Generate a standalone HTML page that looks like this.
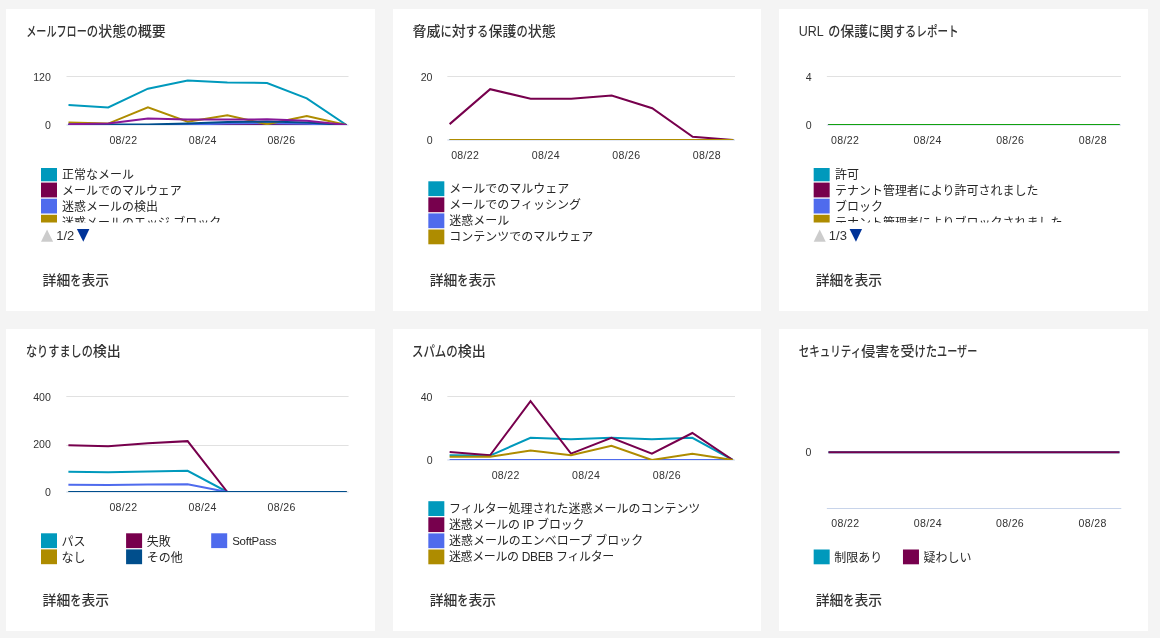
<!DOCTYPE html>
<html lang="ja">
<head>
<meta charset="utf-8">
<title>レポート ダッシュボード</title>
<style>
html,body{margin:0;padding:0}
body{width:1160px;height:638px;overflow:hidden;background:#f4f4f4;position:relative;
 font-family:"Liberation Sans","Noto Sans CJK JP",sans-serif;color:#333}
.card{position:absolute;width:368.67px;height:302px;background:#fff;overflow:hidden}
.card svg{position:absolute;left:0;top:0;overflow:hidden}
.card svg text{font-family:"Liberation Sans","Noto Sans CJK JP",sans-serif;fill:#333}
.card svg text.lg{fill:#262626}
.card svg a{text-decoration:none;cursor:pointer}
.ttl{font-weight:500}
.lnk{font-weight:500}
body.textonly .g, body.textonly line{visibility:hidden}
</style>
</head>
<body>

<section class="card" style="left:6px;top:9px">
<svg width="368.67" height="302" viewBox="6 9 368.67 302">
<text id="t0" x="26.20" y="35.60" font-size="14" class="ttl"><tspan textLength="60.60" lengthAdjust="spacingAndGlyphs">メールフロー</tspan><tspan textLength="11.40" lengthAdjust="spacingAndGlyphs">の</tspan>状態<tspan textLength="11.60" lengthAdjust="spacingAndGlyphs">の</tspan>概要</text>
<line x1="66.50" y1="76.50" x2="348.50" y2="76.50" stroke="#e1e1e1" stroke-width="1"/>
<line x1="66.50" y1="125.00" x2="348.50" y2="125.00" stroke="#c8d4ea" stroke-width="1"/>
<clipPath id="c1"><rect x="66.5" y="74.5" width="282.0" height="50.5"/></clipPath>
<g class="g" clip-path="url(#c1)">
<polyline points="68.50,105.00 108.21,107.40 147.93,88.70 187.64,80.50 227.36,82.50 267.07,83.00 306.79,98.40 346.50,125.00" fill="none" stroke="#0099BC" stroke-width="2" stroke-linejoin="miter"/>
<polyline points="68.50,125.00 108.21,125.00 147.93,125.00 187.64,125.00 227.36,125.00 267.07,125.00 306.79,125.00 346.50,125.00" fill="none" stroke="#77004D" stroke-width="2" stroke-linejoin="miter"/>
<polyline points="68.50,125.00 108.21,125.00 147.93,125.00 187.64,124.50 227.36,123.60 267.07,123.20 306.79,123.80 346.50,125.00" fill="none" stroke="#4F6BED" stroke-width="2" stroke-linejoin="miter"/>
<polyline points="68.50,122.60 108.21,123.60 147.93,107.40 187.64,121.80 227.36,115.30 267.07,124.20 306.79,116.00 346.50,125.00" fill="none" stroke="#AE8C00" stroke-width="2" stroke-linejoin="miter"/>
<polyline points="68.50,124.60 108.21,124.60 147.93,124.60 187.64,123.40 227.36,122.00 267.07,121.60 306.79,122.60 346.50,125.00" fill="none" stroke="#004E8C" stroke-width="2" stroke-linejoin="miter"/>
<polyline points="68.50,124.20 108.21,123.60 147.93,118.50 187.64,119.60 227.36,119.60 267.07,119.30 306.79,120.80 346.50,125.00" fill="none" stroke="#881798" stroke-width="2" stroke-linejoin="miter"/>
</g>
<text id="c1y120" x="50.80" y="80.90" font-size="10.6" text-anchor="end">120</text>
<text id="c1y0" x="50.80" y="128.80" font-size="10.6" text-anchor="end">0</text>
<text id="c1x0" x="123.30" y="144.10" font-size="10.6" text-anchor="middle" textLength="27.80" lengthAdjust="spacing">08/22</text>
<text id="c1x1" x="202.60" y="144.10" font-size="10.6" text-anchor="middle" textLength="27.80" lengthAdjust="spacing">08/24</text>
<text id="c1x2" x="281.30" y="144.10" font-size="10.6" text-anchor="middle" textLength="27.80" lengthAdjust="spacing">08/26</text>
<clipPath id="l1"><rect x="36" y="168" width="21.5" height="54.5"/><rect x="58" y="160" width="300" height="62.5"/></clipPath><g clip-path="url(#l1)">
<rect class="g" x="41.00" y="166.50" width="16" height="14.8" fill="#0099BC"/>
<text id="c1l0" x="62.00" y="179.00" font-size="12" class="lg">正常なメール</text>
<rect class="g" x="41.00" y="182.60" width="16" height="14.8" fill="#77004D"/>
<text id="c1l1" x="62.00" y="195.00" font-size="12" class="lg">メールでのマルウェア</text>
<rect class="g" x="41.00" y="198.70" width="16" height="14.8" fill="#4F6BED"/>
<text id="c1l2" x="62.00" y="211.00" font-size="12" class="lg">迷惑メールの検出</text>
<rect class="g" x="41.00" y="214.80" width="16" height="14.8" fill="#AE8C00"/>
<text id="c1l3" x="62.00" y="227.00" font-size="12" class="lg">迷惑メールのエッジ ブロック</text>
</g>
<polygon class="g" points="41,241.7 53.1,241.7 47.05,229.6" fill="#cccccc"/>
<text id="c1pg" x="56.20" y="240.00" font-size="13" fill="#222">1/2</text>
<polygon class="g" points="76.9,229.1 89.4,229.1 83.3,241.7" fill="#003399"/>
<a href="#"><text id="k0" x="42.60" y="285.40" font-size="13.7" class="lnk"><tspan textLength="27.60" lengthAdjust="spacingAndGlyphs">詳細</tspan><tspan textLength="11.20" lengthAdjust="spacingAndGlyphs">を</tspan><tspan textLength="27.60" lengthAdjust="spacingAndGlyphs">表示</tspan></text></a>
</svg>
</section>
<section class="card" style="left:392.67px;top:9px">
<svg width="368.67" height="302" viewBox="392.67 9 368.67 302">
<text id="t1" x="412.20" y="35.60" font-size="14" class="ttl">脅威<tspan textLength="11.30" lengthAdjust="spacingAndGlyphs">に</tspan>対<tspan textLength="22.60" lengthAdjust="spacingAndGlyphs">する</tspan>保護<tspan textLength="11.30" lengthAdjust="spacingAndGlyphs">の</tspan>状態</text>
<line x1="447.00" y1="76.50" x2="734.70" y2="76.50" stroke="#e1e1e1" stroke-width="1"/>
<line x1="447.00" y1="140.00" x2="734.70" y2="140.00" stroke="#c8d4ea" stroke-width="1"/>
<clipPath id="c2"><rect x="447" y="74.5" width="287.70000000000005" height="65.5"/></clipPath>
<g class="g" clip-path="url(#c2)">
<polyline points="449.30,140.00 489.81,140.00 530.33,140.00 570.84,140.00 611.36,140.00 651.87,140.00 692.39,140.00 732.90,140.00" fill="none" stroke="#0099BC" stroke-width="2" stroke-linejoin="miter"/>
<polyline points="449.30,124.12 489.81,89.20 530.33,98.72 570.84,98.72 611.36,95.55 651.87,108.25 692.39,136.82 732.90,140.00" fill="none" stroke="#77004D" stroke-width="2" stroke-linejoin="miter"/>
<polyline points="449.30,140.00 489.81,140.00 530.33,140.00 570.84,140.00 611.36,140.00 651.87,140.00 692.39,140.00 732.90,140.00" fill="none" stroke="#4F6BED" stroke-width="2" stroke-linejoin="miter"/>
<polyline points="449.30,140.00 489.81,140.00 530.33,140.00 570.84,140.00 611.36,140.00 651.87,140.00 692.39,140.00 732.90,140.00" fill="none" stroke="#AE8C00" stroke-width="2" stroke-linejoin="miter"/>
</g>
<text id="c2y20" x="432.20" y="81.00" font-size="10.6" text-anchor="end">20</text>
<text id="c2y0" x="432.20" y="144.40" font-size="10.6" text-anchor="end">0</text>
<text id="c2x0" x="464.70" y="159.00" font-size="10.6" text-anchor="middle" textLength="27.80" lengthAdjust="spacing">08/22</text>
<text id="c2x1" x="545.30" y="159.00" font-size="10.6" text-anchor="middle" textLength="27.80" lengthAdjust="spacing">08/24</text>
<text id="c2x2" x="625.90" y="159.00" font-size="10.6" text-anchor="middle" textLength="27.80" lengthAdjust="spacing">08/26</text>
<text id="c2x3" x="706.40" y="159.00" font-size="10.6" text-anchor="middle" textLength="27.80" lengthAdjust="spacing">08/28</text>
<rect class="g" x="428.00" y="181.30" width="16" height="14.8" fill="#0099BC"/>
<text id="c2l0" x="449.00" y="193.00" font-size="12" class="lg">メールでのマルウェア</text>
<rect class="g" x="428.00" y="197.40" width="16" height="14.8" fill="#77004D"/>
<text id="c2l1" x="449.00" y="209.00" font-size="12" class="lg">メールでのフィッシング</text>
<rect class="g" x="428.00" y="213.40" width="16" height="14.8" fill="#4F6BED"/>
<text id="c2l2" x="449.00" y="225.00" font-size="12" class="lg">迷惑メール</text>
<rect class="g" x="428.00" y="229.50" width="16" height="14.8" fill="#AE8C00"/>
<text id="c2l3" x="449.00" y="241.00" font-size="12" class="lg">コンテンツでのマルウェア</text>
<a href="#"><text id="k1" x="429.30" y="285.40" font-size="13.7" class="lnk"><tspan textLength="27.60" lengthAdjust="spacingAndGlyphs">詳細</tspan><tspan textLength="11.20" lengthAdjust="spacingAndGlyphs">を</tspan><tspan textLength="27.60" lengthAdjust="spacingAndGlyphs">表示</tspan></text></a>
</svg>
</section>
<section class="card" style="left:779.33px;top:9px">
<svg width="368.67" height="302" viewBox="779.33 9 368.67 302">
<text id="t2" x="799.00" y="35.60" font-size="14" class="ttl"><tspan textLength="25.00" lengthAdjust="spacingAndGlyphs">URL</tspan><tspan textLength="4.50" lengthAdjust="spacingAndGlyphs"> </tspan><tspan textLength="12.10" lengthAdjust="spacingAndGlyphs">の</tspan>保護<tspan textLength="11.50" lengthAdjust="spacingAndGlyphs">に</tspan>関<tspan textLength="22.60" lengthAdjust="spacingAndGlyphs">する</tspan><tspan textLength="42.30" lengthAdjust="spacingAndGlyphs">レポート</tspan></text>
<line x1="827.20" y1="76.50" x2="1121.30" y2="76.50" stroke="#e1e1e1" stroke-width="1"/>
<line x1="827.20" y1="125.00" x2="1121.30" y2="125.00" stroke="#c8d4ea" stroke-width="1"/>
<clipPath id="c3"><rect x="827.2" y="74.5" width="294.0999999999999" height="50.5"/></clipPath>
<g class="g" clip-path="url(#c3)">
<polyline points="828.80,125.00 1119.60,125.00" fill="none" stroke="#0099BC" stroke-width="2" stroke-linejoin="miter"/>
<polyline points="828.80,125.00 1119.60,125.00" fill="none" stroke="#77004D" stroke-width="2" stroke-linejoin="miter"/>
<polyline points="828.80,125.00 1119.60,125.00" fill="none" stroke="#4F6BED" stroke-width="2" stroke-linejoin="miter"/>
<polyline points="828.80,125.00 1119.60,125.00" fill="none" stroke="#AE8C00" stroke-width="2" stroke-linejoin="miter"/>
<polyline points="828.80,125.00 1119.60,125.00" fill="none" stroke="#004E8C" stroke-width="2" stroke-linejoin="miter"/>
<polyline points="828.80,125.00 1119.60,125.00" fill="none" stroke="#881798" stroke-width="2" stroke-linejoin="miter"/>
<polyline points="828.80,125.00 1119.60,125.00" fill="none" stroke="#13A10E" stroke-width="2" stroke-linejoin="miter"/>
</g>
<text id="c3y4" x="812.00" y="81.00" font-size="10.6" text-anchor="end">4</text>
<text id="c3y0" x="812.00" y="129.00" font-size="10.6" text-anchor="end">0</text>
<text id="c3x0" x="845.30" y="144.30" font-size="10.6" text-anchor="middle" textLength="27.80" lengthAdjust="spacing">08/22</text>
<text id="c3x1" x="927.80" y="144.30" font-size="10.6" text-anchor="middle" textLength="27.80" lengthAdjust="spacing">08/24</text>
<text id="c3x2" x="1010.40" y="144.30" font-size="10.6" text-anchor="middle" textLength="27.80" lengthAdjust="spacing">08/26</text>
<text id="c3x3" x="1093.00" y="144.30" font-size="10.6" text-anchor="middle" textLength="27.80" lengthAdjust="spacing">08/28</text>
<clipPath id="l3"><rect x="806" y="168" width="24.5" height="54.5"/><rect x="831" y="160" width="300" height="62.5"/></clipPath><g clip-path="url(#l3)">
<rect class="g" x="814.00" y="166.50" width="16" height="14.8" fill="#0099BC"/>
<text id="c3l0" x="835.30" y="179.00" font-size="12" class="lg">許可</text>
<rect class="g" x="814.00" y="182.60" width="16" height="14.8" fill="#77004D"/>
<text id="c3l1" x="835.30" y="195.00" font-size="12" class="lg">テナント管理者により許可されました</text>
<rect class="g" x="814.00" y="198.70" width="16" height="14.8" fill="#4F6BED"/>
<text id="c3l2" x="835.30" y="211.00" font-size="12" class="lg">ブロック</text>
<rect class="g" x="814.00" y="214.80" width="16" height="14.8" fill="#AE8C00"/>
<text id="c3l3" x="835.30" y="227.00" font-size="12" class="lg">テナント管理者によりブロックされました</text>
</g>
<polygon class="g" points="814,241.7 826.1,241.7 820.05,229.6" fill="#cccccc"/>
<text id="c3pg" x="829.20" y="240.00" font-size="13" fill="#222">1/3</text>
<polygon class="g" points="849.9,229.1 862.4,229.1 856.3,241.7" fill="#003399"/>
<a href="#"><text id="k2" x="816.00" y="285.40" font-size="13.7" class="lnk"><tspan textLength="27.60" lengthAdjust="spacingAndGlyphs">詳細</tspan><tspan textLength="11.20" lengthAdjust="spacingAndGlyphs">を</tspan><tspan textLength="27.60" lengthAdjust="spacingAndGlyphs">表示</tspan></text></a>
</svg>
</section>
<section class="card" style="left:6px;top:329px">
<svg width="368.67" height="302" viewBox="6 329 368.67 302">
<text id="t3" x="26.00" y="355.60" font-size="14" class="ttl"><tspan textLength="66.80" lengthAdjust="spacingAndGlyphs">なりすましの</tspan>検出</text>
<line x1="66.30" y1="396.50" x2="348.60" y2="396.50" stroke="#e1e1e1" stroke-width="1"/>
<line x1="66.30" y1="445.50" x2="348.60" y2="445.50" stroke="#e1e1e1" stroke-width="1"/>
<line x1="66.30" y1="492.00" x2="348.60" y2="492.00" stroke="#c8d4ea" stroke-width="1"/>
<clipPath id="c4"><rect x="66.3" y="394.5" width="282.3" height="97.6"/></clipPath>
<g class="g" clip-path="url(#c4)">
<polyline points="68.40,471.71 108.14,472.18 147.89,471.47 187.63,470.75 227.37,492.00 267.11,492.00 306.86,492.00 346.60,492.00" fill="none" stroke="#0099BC" stroke-width="2" stroke-linejoin="miter"/>
<polyline points="68.40,445.20 108.14,446.16 147.89,443.30 187.63,441.15 227.37,492.00 267.11,492.00 306.86,492.00 346.60,492.00" fill="none" stroke="#77004D" stroke-width="2" stroke-linejoin="miter"/>
<polyline points="68.40,484.84 108.14,484.96 147.89,484.60 187.63,484.36 227.37,492.00 267.11,492.00 306.86,492.00 346.60,492.00" fill="none" stroke="#4F6BED" stroke-width="2" stroke-linejoin="miter"/>
<polyline points="68.40,492.00 108.14,492.00 147.89,492.00 187.63,492.00 227.37,492.00 267.11,492.00 306.86,492.00 346.60,492.00" fill="none" stroke="#AE8C00" stroke-width="2" stroke-linejoin="miter"/>
<polyline points="68.40,492.00 108.14,492.00 147.89,492.00 187.63,492.00 227.37,492.00 267.11,492.00 306.86,492.00 346.60,492.00" fill="none" stroke="#004E8C" stroke-width="2" stroke-linejoin="miter"/>
</g>
<text id="c4y400" x="50.90" y="400.90" font-size="10.6" text-anchor="end">400</text>
<text id="c4y200" x="50.90" y="448.50" font-size="10.6" text-anchor="end">200</text>
<text id="c4y0" x="50.90" y="495.90" font-size="10.6" text-anchor="end">0</text>
<text id="c4x0" x="123.30" y="511.20" font-size="10.6" text-anchor="middle" textLength="27.80" lengthAdjust="spacing">08/22</text>
<text id="c4x1" x="202.50" y="511.20" font-size="10.6" text-anchor="middle" textLength="27.80" lengthAdjust="spacing">08/24</text>
<text id="c4x2" x="281.50" y="511.20" font-size="10.6" text-anchor="middle" textLength="27.80" lengthAdjust="spacing">08/26</text>
<rect class="g" x="41.00" y="533.30" width="16" height="14.8" fill="#0099BC"/>
<text id="c4l0" x="61.60" y="546.00" font-size="12" class="lg">パス</text>
<rect class="g" x="126.10" y="533.30" width="16" height="14.8" fill="#77004D"/>
<text id="c4l1" x="146.70" y="546.00" font-size="12" class="lg">失敗</text>
<rect class="g" x="211.20" y="533.30" width="16" height="14.8" fill="#4F6BED"/>
<text id="c4l2" x="232.20" y="545.00" font-size="11.5" textLength="44.20" lengthAdjust="spacing" class="lg">SoftPass</text>
<rect class="g" x="41.00" y="549.40" width="16" height="14.8" fill="#AE8C00"/>
<text id="c4l3" x="61.60" y="562.00" font-size="12" class="lg">なし</text>
<rect class="g" x="126.10" y="549.40" width="16" height="14.8" fill="#004E8C"/>
<text id="c4l4" x="146.70" y="562.00" font-size="12" class="lg">その他</text>
<a href="#"><text id="k3" x="42.60" y="605.40" font-size="13.7" class="lnk"><tspan textLength="27.60" lengthAdjust="spacingAndGlyphs">詳細</tspan><tspan textLength="11.20" lengthAdjust="spacingAndGlyphs">を</tspan><tspan textLength="27.60" lengthAdjust="spacingAndGlyphs">表示</tspan></text></a>
</svg>
</section>
<section class="card" style="left:392.67px;top:329px">
<svg width="368.67" height="302" viewBox="392.67 329 368.67 302">
<text id="t4" x="411.60" y="355.60" font-size="14" class="ttl"><tspan textLength="34.40" lengthAdjust="spacingAndGlyphs">スパム</tspan><tspan textLength="11.50" lengthAdjust="spacingAndGlyphs">の</tspan>検出</text>
<line x1="447.00" y1="396.50" x2="734.70" y2="396.50" stroke="#e1e1e1" stroke-width="1"/>
<line x1="447.00" y1="460.00" x2="734.70" y2="460.00" stroke="#c8d4ea" stroke-width="1"/>
<clipPath id="c5"><rect x="447" y="394.5" width="287.70000000000005" height="65.5"/></clipPath>
<g class="g" clip-path="url(#c5)">
<polyline points="449.30,455.24 489.76,455.56 530.21,437.77 570.67,439.36 611.13,437.77 651.59,439.36 692.04,437.77 732.50,460.00" fill="none" stroke="#0099BC" stroke-width="2" stroke-linejoin="miter"/>
<polyline points="449.30,452.06 489.76,455.24 530.21,401.26 570.67,453.65 611.13,437.77 651.59,453.65 692.04,433.01 732.50,460.00" fill="none" stroke="#77004D" stroke-width="2" stroke-linejoin="miter"/>
<polyline points="449.30,460.00 489.76,460.00 530.21,460.00 570.67,460.00 611.13,460.00 651.59,460.00 692.04,460.00 732.50,460.00" fill="none" stroke="#4F6BED" stroke-width="2" stroke-linejoin="miter"/>
<polyline points="449.30,456.82 489.76,456.82 530.21,450.48 570.67,455.24 611.13,445.71 651.59,460.00 692.04,453.65 732.50,460.00" fill="none" stroke="#AE8C00" stroke-width="2" stroke-linejoin="miter"/>
</g>
<text id="c5y40" x="432.20" y="401.00" font-size="10.6" text-anchor="end">40</text>
<text id="c5y0" x="432.20" y="464.40" font-size="10.6" text-anchor="end">0</text>
<text id="c5x0" x="505.20" y="479.10" font-size="10.6" text-anchor="middle" textLength="27.80" lengthAdjust="spacing">08/22</text>
<text id="c5x1" x="585.70" y="479.10" font-size="10.6" text-anchor="middle" textLength="27.80" lengthAdjust="spacing">08/24</text>
<text id="c5x2" x="666.30" y="479.10" font-size="10.6" text-anchor="middle" textLength="27.80" lengthAdjust="spacing">08/26</text>
<rect class="g" x="428.00" y="501.20" width="16" height="14.8" fill="#0099BC"/>
<text id="c5l0" x="448.60" y="513.00" font-size="12" class="lg">フィルター処理された迷惑メールのコンテンツ</text>
<rect class="g" x="428.00" y="517.30" width="16" height="14.8" fill="#77004D"/>
<text id="c5l1" x="448.60" y="529.00" font-size="12" textLength="135.60" lengthAdjust="spacing" class="lg">迷惑メールの IP ブロック</text>
<rect class="g" x="428.00" y="533.40" width="16" height="14.8" fill="#4F6BED"/>
<text id="c5l2" x="448.60" y="545.00" font-size="12" class="lg">迷惑メールのエンベロープ ブロック</text>
<rect class="g" x="428.00" y="549.50" width="16" height="14.8" fill="#AE8C00"/>
<text id="c5l3" x="448.60" y="561.00" font-size="12" textLength="165.40" lengthAdjust="spacing" class="lg">迷惑メールの DBEB フィルター</text>
<a href="#"><text id="k4" x="429.30" y="605.40" font-size="13.7" class="lnk"><tspan textLength="27.60" lengthAdjust="spacingAndGlyphs">詳細</tspan><tspan textLength="11.20" lengthAdjust="spacingAndGlyphs">を</tspan><tspan textLength="27.60" lengthAdjust="spacingAndGlyphs">表示</tspan></text></a>
</svg>
</section>
<section class="card" style="left:779.33px;top:329px">
<svg width="368.67" height="302" viewBox="779.33 329 368.67 302">
<text id="t5" x="799.00" y="355.60" font-size="14" class="ttl"><tspan textLength="62.50" lengthAdjust="spacingAndGlyphs">セキュリティ</tspan>侵害<tspan textLength="11.30" lengthAdjust="spacingAndGlyphs">を</tspan>受<tspan textLength="22.60" lengthAdjust="spacingAndGlyphs">けた</tspan><tspan textLength="40.20" lengthAdjust="spacingAndGlyphs">ユーザー</tspan></text>
<line x1="827.20" y1="508.50" x2="1121.60" y2="508.50" stroke="#c8d4ea" stroke-width="1"/>
<g class="g">
<polyline points="828.80,452.30 1119.80,452.30" fill="none" stroke="#0099BC" stroke-width="2" stroke-linejoin="miter"/>
<polyline points="828.80,452.30 1119.80,452.30" fill="none" stroke="#77004D" stroke-width="2" stroke-linejoin="miter"/>
</g>
<text id="c6y0" x="811.80" y="455.80" font-size="10.6" text-anchor="end">0</text>
<text id="c6x0" x="845.60" y="527.40" font-size="10.6" text-anchor="middle" textLength="27.80" lengthAdjust="spacing">08/22</text>
<text id="c6x1" x="928.00" y="527.40" font-size="10.6" text-anchor="middle" textLength="27.80" lengthAdjust="spacing">08/24</text>
<text id="c6x2" x="1010.20" y="527.40" font-size="10.6" text-anchor="middle" textLength="27.80" lengthAdjust="spacing">08/26</text>
<text id="c6x3" x="1092.80" y="527.40" font-size="10.6" text-anchor="middle" textLength="27.80" lengthAdjust="spacing">08/28</text>
<rect class="g" x="814.00" y="549.50" width="16" height="14.8" fill="#0099BC"/>
<text id="c6l0" x="834.60" y="562.00" font-size="12" class="lg">制限あり</text>
<rect class="g" x="903.30" y="549.50" width="16" height="14.8" fill="#77004D"/>
<text id="c6l1" x="923.90" y="562.00" font-size="12" class="lg">疑わしい</text>
<a href="#"><text id="k5" x="816.00" y="605.40" font-size="13.7" class="lnk"><tspan textLength="27.60" lengthAdjust="spacingAndGlyphs">詳細</tspan><tspan textLength="11.20" lengthAdjust="spacingAndGlyphs">を</tspan><tspan textLength="27.60" lengthAdjust="spacingAndGlyphs">表示</tspan></text></a>
</svg>
</section>
</body>
</html>
